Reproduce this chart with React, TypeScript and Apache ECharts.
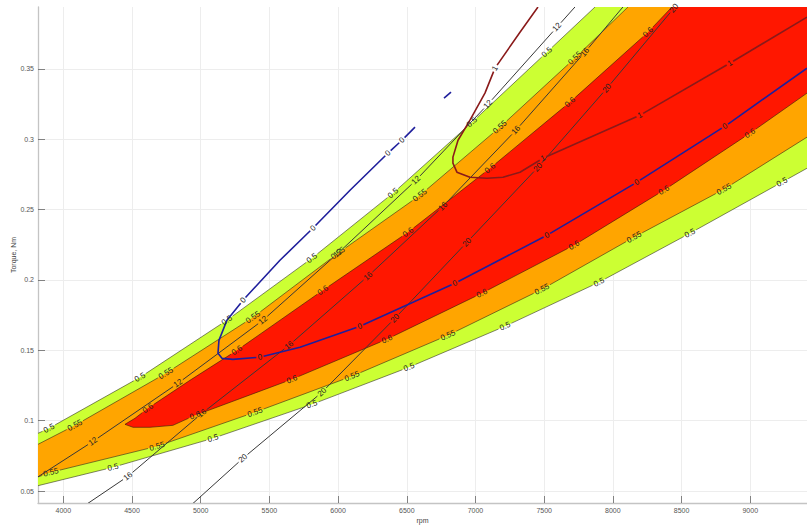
import React, { useEffect, useRef } from 'react';
import * as echarts from 'echarts';

const FONT = '"Liberation Sans", Arial, Helvetica, sans-serif';
const LABEL_SIZE = 8;

// axis ranges
const rpmMin = 3816;
const rpmMax = 9413;
const torqueMin = 0.0415;
const torqueMax = 0.394;
const xTicks = [4000, 4500, 5000, 5500, 6000, 6500, 7000, 7500, 8000, 8500, 9000];
const yTicks = [0.05, 0.1, 0.15, 0.2, 0.25, 0.3, 0.35];

// efficiency contours [rpm, torque]
const eff050Upper = [
  [3816, 0.091], [3896, 0.0946], [4558, 0.1308], [5191, 0.1714], [5810, 0.2155],
  [6400, 0.2617], [6975, 0.3121], [7520, 0.3619], [7870, 0.394],
];
const eff050UpperLabels = [1, 2, 3, 4, 5, 6, 7];
const eff050Lower = [
  [3816, 0.0538], [4362, 0.0669], [5090, 0.0875], [5810, 0.1116], [6516, 0.138],
  [7215, 0.1671], [7899, 0.1984], [8561, 0.2332], [9231, 0.2695], [9413, 0.2794],
];
const eff050LowerLabels = [1, 2, 3, 4, 5, 6, 7, 8];
const eff055Upper = [
  [3816, 0.0832], [4085, 0.0967], [4747, 0.1337], [5381, 0.1735], [5999, 0.219],
  [6596, 0.2602], [7178, 0.3086], [7724, 0.3577], [8110, 0.394],
];
const eff055UpperLabels = [1, 2, 3, 4, 5, 6, 7];
const eff055Lower = [
  [3816, 0.06], [3910, 0.0633], [4682, 0.0818], [5395, 0.106], [6101, 0.1316],
  [6800, 0.1607], [7484, 0.1934], [8154, 0.2304], [8809, 0.2645], [9413, 0.3015],
];
const eff055LowerLabels = [1, 2, 3, 4, 5, 6, 7, 8];
const eff060 = [
  [8430, 0.394], [8256, 0.3761], [7688, 0.3264], [7106, 0.2794], [6509, 0.2339],
  [5890, 0.1927], [5264, 0.15], [4922, 0.1287], [4616, 0.1088], [4522, 0.1017],
  [4449, 0.0974], [4508, 0.0953], [4631, 0.0953], [4798, 0.0967], [4959, 0.1038],
  [5664, 0.1294], [6356, 0.1579], [7047, 0.1906], [7717, 0.2247], [8372, 0.2638],
  [8998, 0.3043], [9413, 0.3328],
];
const eff060Labels = [1, 2, 3, 4, 5, 6, 8, 14, 15, 16, 17, 18, 19, 20];

// power contours
const power12 = [
  [3816, 0.0601], [4216, 0.0853], [4835, 0.1266], [5453, 0.1714], [5999, 0.219],
  [6567, 0.2709], [7091, 0.3249], [7593, 0.3797], [7724, 0.394],
];
const power12Labels = [1, 2, 3, 4, 5, 6, 7];
const power16 = [
  [4180, 0.0413], [4471, 0.0605], [5009, 0.1052], [5643, 0.1536], [6218, 0.2027],
  [6763, 0.2524], [7295, 0.3065], [7797, 0.3619], [8073, 0.394],
];
const power16Labels = [1, 2, 3, 4, 5, 6, 7];
const power20 = [
  [4944, 0.0412], [5308, 0.0733], [5883, 0.1202], [6414, 0.1728], [6938, 0.2268],
  [7455, 0.2801], [7957, 0.3363], [8445, 0.3932],
];
const power20Labels = [1, 2, 3, 4, 5, 6, 7];

// level-0 contour (blue)
const zeroMain = [
  [9413, 0.3505], [8816, 0.3093], [8175, 0.2695], [7520, 0.2318], [6851, 0.1977],
  [6159, 0.1671], [5723, 0.1522], [5432, 0.1451], [5235, 0.1436], [5155, 0.1443],
  [5126, 0.1479], [5133, 0.1571], [5191, 0.1714], [5308, 0.1856], [5577, 0.214],
  [5817, 0.2368], [6087, 0.2638], [6363, 0.2901], [6465, 0.2993], [6560, 0.3086],
];
const zeroMainLabels = [1, 2, 3, 4, 5, 7, 13, 15, 17, 18];
const zeroPiece = [[6771, 0.3292], [6822, 0.3335]];
const zeroPieceLabels: number[] = [];

// level-1 contour (dark red)
const oneLine = [
  [7455, 0.394], [7324, 0.3761], [7142, 0.3505], [7069, 0.3328], [6960, 0.3136],
  [6873, 0.2993], [6836, 0.2873], [6836, 0.283], [6865, 0.2766], [6960, 0.273],
  [7084, 0.2723], [7200, 0.273], [7324, 0.2766], [7491, 0.2865], [8197, 0.3171],
  [8852, 0.3541], [9413, 0.3868],
];
const oneLineLabels = [2, 13, 14, 15];

function textWidth(t: string) {
  let w = 0;
  for (const c of t) w += c === '.' ? 0.278 : 0.556;
  return w * LABEL_SIZE;
}

type LabelDef = { curve: number[][]; idx: number; text: string };
const labelDefs: LabelDef[] = [];

type CurveDef = { curve: number[][]; labels: number[]; text: string; color: string; width: number };
const curveDefs: CurveDef[] = [
  { curve: eff050Upper, labels: eff050UpperLabels, text: '0.5', color: '#333326', width: 0.6 },
  { curve: eff050Lower, labels: eff050LowerLabels, text: '0.5', color: '#333326', width: 0.6 },
  { curve: eff055Upper, labels: eff055UpperLabels, text: '0.55', color: '#33291a', width: 0.6 },
  { curve: eff055Lower, labels: eff055LowerLabels, text: '0.55', color: '#33291a', width: 0.6 },
  { curve: eff060, labels: eff060Labels, text: '0.6', color: '#33150d', width: 0.6 },
  { curve: power12, labels: power12Labels, text: '12', color: '#383838', width: 1 },
  { curve: power16, labels: power16Labels, text: '16', color: '#383838', width: 1 },
  { curve: power20, labels: power20Labels, text: '20', color: '#383838', width: 1 },
  { curve: zeroMain, labels: zeroMainLabels, text: '0', color: '#1f1f9c', width: 1.6 },
  { curve: zeroPiece, labels: zeroPieceLabels, text: '0', color: '#1f1f9c', width: 1.6 },
  { curve: oneLine, labels: oneLineLabels, text: '1', color: '#8a1a1a', width: 1.6 },
];
curveDefs.forEach((c) => c.labels.forEach((idx) => labelDefs.push({ curve: c.curve, idx, text: c.text })));

function fillSeries(points: number[][], color: string) {
  return {
    type: 'custom',
    coordinateSystem: 'cartesian2d',
    silent: true,
    clip: true,
    data: [[rpmMin, torqueMin]],
    renderItem: (_p: any, api: any) => ({
      type: 'polygon',
      shape: { points: points.map((pt) => api.coord(pt)) },
      style: { fill: color, stroke: 'none' },
    }),
  };
}

// contour line with gaps where its labels sit (like MATLAB clabel)
function contourLineSeries(def: CurveDef) {
  return {
    type: 'custom',
    coordinateSystem: 'cartesian2d',
    silent: true,
    clip: true,
    data: [[rpmMin, torqueMin]],
    renderItem: (_p: any, api: any) => {
      const px: number[][] = def.curve.map((pt) => api.coord(pt));
      const cum = [0];
      for (let i = 1; i < px.length; i++) {
        cum.push(cum[i - 1] + Math.hypot(px[i][0] - px[i - 1][0], px[i][1] - px[i - 1][1]));
      }
      const total = cum[cum.length - 1];
      const half = textWidth(def.text) / 2 + 1.5;
      const gaps = def.labels.map((i) => [cum[i] - half, cum[i] + half]).sort((a, b) => a[0] - b[0]);
      const keep: number[][] = [];
      let s = 0;
      gaps.forEach(([g0, g1]) => {
        if (g0 > s) keep.push([s, g0]);
        s = Math.max(s, g1);
      });
      if (s < total) keep.push([s, total]);
      const at = (d: number) => {
        for (let i = 1; i < px.length; i++) {
          if (d <= cum[i] || i === px.length - 1) {
            const seg = cum[i] - cum[i - 1] || 1;
            const t = Math.min(1, Math.max(0, (d - cum[i - 1]) / seg));
            return [px[i - 1][0] + t * (px[i][0] - px[i - 1][0]), px[i - 1][1] + t * (px[i][1] - px[i - 1][1])];
          }
        }
        return px[px.length - 1];
      };
      const children = keep.map(([a, b]) => {
        const pts = [at(a)];
        for (let i = 0; i < px.length; i++) if (cum[i] > a && cum[i] < b) pts.push(px[i]);
        pts.push(at(b));
        return {
          type: 'polyline',
          shape: { points: pts },
          style: { stroke: def.color, lineWidth: def.width, fill: 'none', lineJoin: 'round' },
        };
      });
      return { type: 'group', children };
    },
  };
}

const greenPoly = [...eff050Lower, [rpmMax, torqueMax], ...eff050Upper.slice().reverse()];
const orangePoly = [...eff055Lower, [rpmMax, torqueMax], ...eff055Upper.slice().reverse()];
const redPoly = [...eff060, [rpmMax, torqueMax]];

const axisLabelBase = { fontSize: 7, color: '#555555', fontFamily: FONT };

const option: any = {
  animation: false,
  backgroundColor: '#ffffff',
  grid: { left: 38, right: 0, top: 7, bottom: 26, containLabel: false, outerBoundsMode: 'none' },
  xAxis: {
    type: 'value',
    min: rpmMin,
    max: rpmMax,
    splitNumber: 11,
    name: 'rpm',
    nameLocation: 'middle',
    nameGap: 14,
    nameMoveOverlap: false,
    nameTextStyle: { fontSize: 7, color: '#444444', fontFamily: FONT },
    axisLine: { show: true, onZero: false, lineStyle: { color: '#c4c4c4', width: 1.3 } },
    axisTick: { show: true, inside: true, length: 7, customValues: xTicks, lineStyle: { color: '#666666', width: 0.8 } },
    axisLabel: {
      ...axisLabelBase,
      margin: 4,
      customValues: xTicks,
      showMinLabel: true,
      showMaxLabel: true,
      formatter: (v: number) => (Math.abs(v / 500 - Math.round(v / 500)) < 1e-6 ? String(v) : ''),
    },
    splitLine: { show: true, lineStyle: { color: '#ededed', width: 1 } },
  },
  yAxis: {
    type: 'value',
    min: torqueMin,
    max: torqueMax,
    splitNumber: 7,
    name: 'Torque, Nm',
    nameLocation: 'middle',
    nameGap: 21,
    nameMoveOverlap: false,
    nameTextStyle: { fontSize: 7, color: '#444444', fontFamily: FONT },
    axisLine: { show: true, onZero: false, lineStyle: { color: '#c4c4c4', width: 1.3 } },
    axisTick: { show: true, inside: true, length: 7, customValues: yTicks, lineStyle: { color: '#666666', width: 0.8 } },
    axisLabel: {
      ...axisLabelBase,
      margin: 4,
      customValues: yTicks,
      showMinLabel: true,
      showMaxLabel: true,
      formatter: (v: number) => {
        const k = v / 0.05;
        return Math.abs(k - Math.round(k)) < 1e-6 ? String(Math.round(v * 100) / 100) : '';
      },
    },
    splitLine: { show: true, lineStyle: { color: '#ededed', width: 1 } },
  },
  series: [
    fillSeries(greenPoly, '#ccff33'),
    fillSeries(orangePoly, '#ffa500'),
    fillSeries(redPoly, '#ff1700'),
    ...curveDefs.map((d) => contourLineSeries(d)),
    {
      type: 'custom',
      coordinateSystem: 'cartesian2d',
      silent: true,
      clip: false,
      data: labelDefs.map((d) => d.curve[d.idx]),
      renderItem: (params: any, api: any) => {
        const def = labelDefs[params.dataIndex];
        const n = def.curve.length;
        const p = api.coord(def.curve[def.idx]);
        const a = api.coord(def.curve[Math.max(0, def.idx - 1)]);
        const b = api.coord(def.curve[Math.min(n - 1, def.idx + 1)]);
        let ang = Math.atan2(-(b[1] - a[1]), b[0] - a[0]);
        if (ang > Math.PI / 2) ang -= Math.PI;
        if (ang < -Math.PI / 2) ang += Math.PI;
        return {
          type: 'text',
          x: p[0],
          y: p[1],
          rotation: ang,
          style: {
            text: def.text,
            fontSize: LABEL_SIZE,
            fontFamily: FONT,
            fill: '#222222',
            align: 'center',
            verticalAlign: 'middle',
          },
        };
      },
    },
  ],
};

export default function App() {
  const ref = useRef<HTMLDivElement>(null);
  useEffect(() => {
    document.body.style.margin = '0';
    const chart = echarts.init(ref.current!, undefined, { renderer: 'svg' });
    chart.setOption(option);
    return () => chart.dispose();
  }, []);
  return (
    <div
      ref={ref}
      style={{ position: 'fixed', left: 0, top: 0, width: 807, height: 529, background: '#fff' }}
    />
  );
}
